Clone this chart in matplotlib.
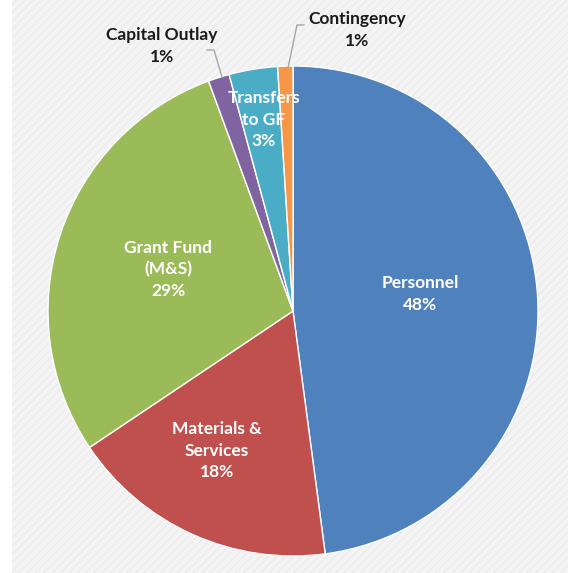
import matplotlib as mpl
mpl.use('Agg')
import matplotlib.pyplot as plt
from matplotlib.patches import Rectangle

# budget shares (percent), clockwise from 12 o'clock
categories = ['Personnel', 'Materials &\nServices', 'Grant Fund\n(M&S)',
              'Capital Outlay', 'Transfers\nto GF', 'Contingency']
values = [47.9, 17.7, 28.8, 1.4, 3.2, 1.0]
pct_labels = ['48%', '18%', '29%', '1%', '3%', '1%']
colors = ['#4F81BD', '#C0504D', '#9BBB59', '#8064A2', '#4BACC6', '#F79646']

plt.rcParams['font.family'] = ['Lato', 'DejaVu Sans']

fig = plt.figure(figsize=(5.68, 5.73), dpi=100)
fig.patch.set_facecolor('white')

# striped light-gray backdrop (leaves a white strip at the left)
bg = Rectangle((12 / 568, 0), 1, 1, transform=fig.transFigure,
               facecolor='#F4F4F4', edgecolor='#EBEBEB', hatch='////',
               linewidth=0, zorder=-10)
fig.patches.append(bg)

ax = fig.add_axes([0, 0, 1, 1])
ax.set_facecolor('none')

wedges, _ = ax.pie(values, colors=colors, startangle=90, counterclock=False,
                   radius=1.0, center=(0, 0),
                   wedgeprops=dict(edgecolor='white', linewidth=1.0))

ax.set_xlim(-293 / 245, (568 - 293) / 245)
ax.set_ylim((311 - 573) / 245, 311 / 245)
ax.set_aspect('equal')
ax.axis('off')

# label positions inside the pie (data coords)
inside = {0: (0.52, 0.07), 1: (-0.31, -0.57), 2: (-0.51, 0.17), 4: (-0.12, 0.78)}
for i, (x, y) in inside.items():
    ax.text(x, y, categories[i] + '\n' + pct_labels[i], ha='center', va='center',
            color='white', fontsize=12.5, fontweight='bold', linespacing=1.42)


def px(x, y):
    return ((x - 293) / 245, (311 - y) / 245)


# outside labels with leader lines
ax.plot(*zip(px(222, 77), px(214, 50), px(207, 50)), color='#A6A6A6', lw=1)
ax.text(*px(162, 46), categories[3] + '\n' + pct_labels[3], ha='center', va='center',
        color='#1A1A1A', fontsize=12.5, fontweight='bold', linespacing=1.42)

ax.plot(*zip(px(288, 68), px(297, 25), px(304, 25)), color='#A6A6A6', lw=1)
ax.text(*px(357, 30), categories[5] + '\n' + pct_labels[5], ha='center', va='center',
        color='#1A1A1A', fontsize=12.5, fontweight='bold', linespacing=1.42)

plt.savefig('out.png', dpi=100, facecolor=fig.get_facecolor())
